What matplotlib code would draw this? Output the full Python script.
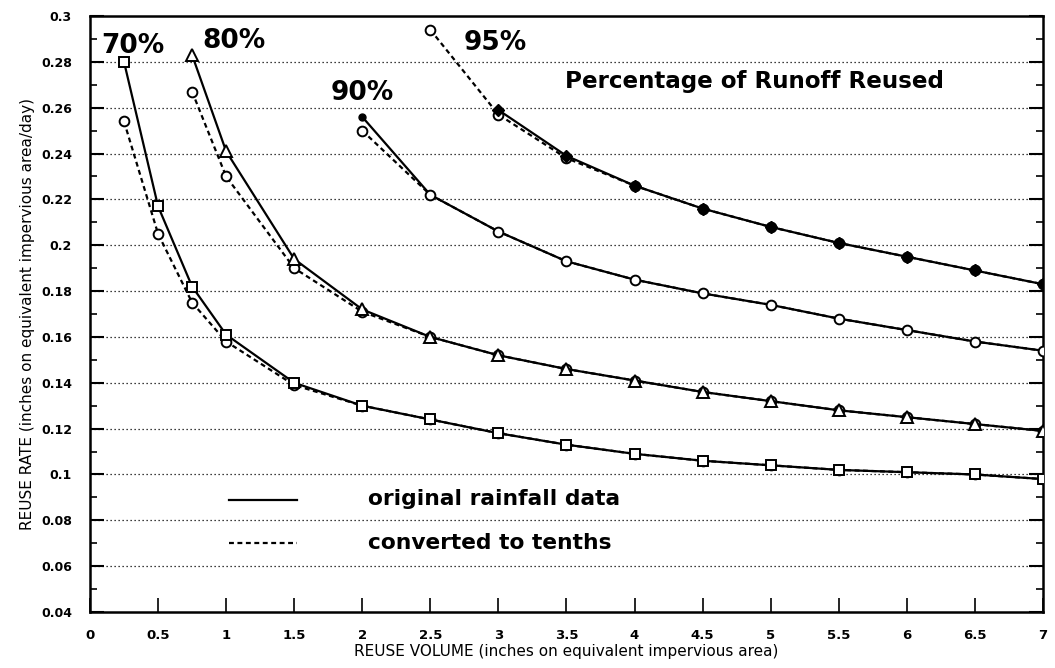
import matplotlib.pyplot as plt
import numpy as np

plt.rcParams['font.family'] = ['DejaVu Sans']

# reuse volume (x) and reuse rate (y) for each percentage of runoff reused
x70 = [0.25, 0.5, 0.75, 1, 1.5, 2, 2.5, 3, 3.5, 4, 4.5, 5, 5.5, 6, 6.5, 7]
y70_orig = [0.280, 0.217, 0.182, 0.161, 0.140, 0.130, 0.124, 0.118, 0.113,
            0.109, 0.106, 0.104, 0.102, 0.101, 0.100, 0.098]
y70_tenths = [0.254, 0.205, 0.175, 0.158, 0.139, 0.130, 0.124, 0.118, 0.113,
              0.109, 0.106, 0.104, 0.102, 0.101, 0.100, 0.098]

x80 = [0.75, 1, 1.5, 2, 2.5, 3, 3.5, 4, 4.5, 5, 5.5, 6, 6.5, 7]
y80_orig = [0.283, 0.241, 0.194, 0.172, 0.160, 0.152, 0.146, 0.141, 0.136,
            0.132, 0.128, 0.125, 0.122, 0.119]
y80_tenths = [0.267, 0.230, 0.190, 0.171, 0.160, 0.152, 0.146, 0.141, 0.136,
              0.132, 0.128, 0.125, 0.122, 0.119]

x90 = [2, 2.5, 3, 3.5, 4, 4.5, 5, 5.5, 6, 6.5, 7]
y90_orig = [0.256, 0.222, 0.206, 0.193, 0.185, 0.179, 0.174, 0.168, 0.163,
            0.158, 0.154]
y90_tenths = [0.250, 0.222, 0.206, 0.193, 0.185, 0.179, 0.174, 0.168, 0.163,
              0.158, 0.154]

x95_orig = [3, 3.5, 4, 4.5, 5, 5.5, 6, 6.5, 7]
y95_orig = [0.259, 0.239, 0.226, 0.216, 0.208, 0.201, 0.195, 0.189, 0.183]
x95_tenths = [2.5, 3, 3.5, 4, 4.5, 5, 5.5, 6, 6.5, 7]
y95_tenths = [0.294, 0.257, 0.238, 0.226, 0.216, 0.208, 0.201, 0.195,
              0.189, 0.183]

fig = plt.figure(figsize=(10.55, 6.68), dpi=100)
ax = fig.add_axes([0.0853, 0.0838, 0.9033, 0.8922])

dash = (0, (2.2, 1.6))
circ = dict(marker='o', markersize=7, markerfacecolor='white',
            markeredgecolor='black', markeredgewidth=1.4)

# converted to tenths (dashed, open circles)
for xs, ys in [(x70, y70_tenths), (x80, y80_tenths), (x90, y90_tenths),
               (x95_tenths, y95_tenths)]:
    ax.plot(xs, ys, color='black', linestyle=dash, linewidth=1.6, zorder=3, **circ)

# original rainfall data (solid)
ax.plot(x70, y70_orig, color='black', linewidth=1.6, marker='s', markersize=7,
        markerfacecolor='white', markeredgecolor='black', markeredgewidth=1.4,
        zorder=4)
ax.plot(x80, y80_orig, color='black', linewidth=1.6, marker='^', markersize=8,
        markerfacecolor='white', markeredgecolor='black', markeredgewidth=1.4,
        zorder=4)
ax.plot(x90, y90_orig, color='black', linewidth=1.6, marker='o', markersize=5,
        markerfacecolor='black', markeredgecolor='black', zorder=2)
ax.plot(x95_orig, y95_orig, color='black', linewidth=1.6, marker='D', markersize=6,
        markerfacecolor='black', markeredgecolor='black', zorder=4)

ax.set_xlim(0, 7)
ax.set_ylim(0.04, 0.3)
ax.set_xticks(np.arange(0, 7.01, 0.5))
ax.set_xticklabels(['0', '0.5', '1', '1.5', '2', '2.5', '3', '3.5', '4', '4.5',
                    '5', '5.5', '6', '6.5', '7'])
yt = np.arange(0.04, 0.301, 0.02)
ax.set_yticks(yt)
ax.set_yticklabels(['0.04', '0.06', '0.08', '0.1', '0.12', '0.14', '0.16', '0.18',
                    '0.2', '0.22', '0.24', '0.26', '0.28', '0.3'])
ax.set_yticks(np.arange(0.05, 0.3, 0.02), minor=True)
ax.tick_params(axis='y', which='major', direction='in', length=10, width=1.5,
               right=True, labelsize=9, pad=13)
ax.tick_params(axis='y', which='minor', direction='in', length=5, width=1.2,
               right=True)
ax.tick_params(axis='x', which='major', direction='in', length=10, width=1.2,
               labelsize=9.5, pad=12)
for lab in ax.get_xticklabels() + ax.get_yticklabels():
    lab.set_fontweight('bold')
for s in ax.spines.values():
    s.set_linewidth(1.8)

for v in yt[1:-1]:
    ax.axhline(v, color='black', linestyle=(0, (1, 2.2)), linewidth=0.9, zorder=0)

ax.set_xlabel('REUSE VOLUME (inches on equivalent impervious area)', fontsize=11,
              labelpad=2)
ax.set_ylabel('REUSE RATE (inches on equivalent impervious area/day)', fontsize=11,
              labelpad=4)

pct = dict(fontsize=19, fontweight='bold', color='black', ha='left', va='baseline')
ax.text(0.086, 0.2837, '70%', **pct)
ax.text(0.824, 0.2859, '80%', **pct)
ax.text(1.77, 0.2634, '90%', **pct)
ax.text(2.741, 0.2852, '95%', **pct)
ax.text(3.488, 0.2685, 'Percentage of Runoff Reused', fontsize=16.6,
        fontweight='bold', ha='left', va='baseline')

# legend drawn inside the axes
ax.plot([1.02, 1.52], [0.0888, 0.0888], color='black', linewidth=1.6)
ax.plot([1.02, 1.52], [0.0702, 0.0702], color='black', linestyle=dash, linewidth=1.6)
leg = dict(fontsize=15.7, fontweight='bold', ha='left', va='baseline')
ax.text(2.043, 0.0865, 'original rainfall data', **leg)
ax.text(2.043, 0.0673, 'converted to tenths', **leg)

fig.savefig('out.png', dpi=100)
